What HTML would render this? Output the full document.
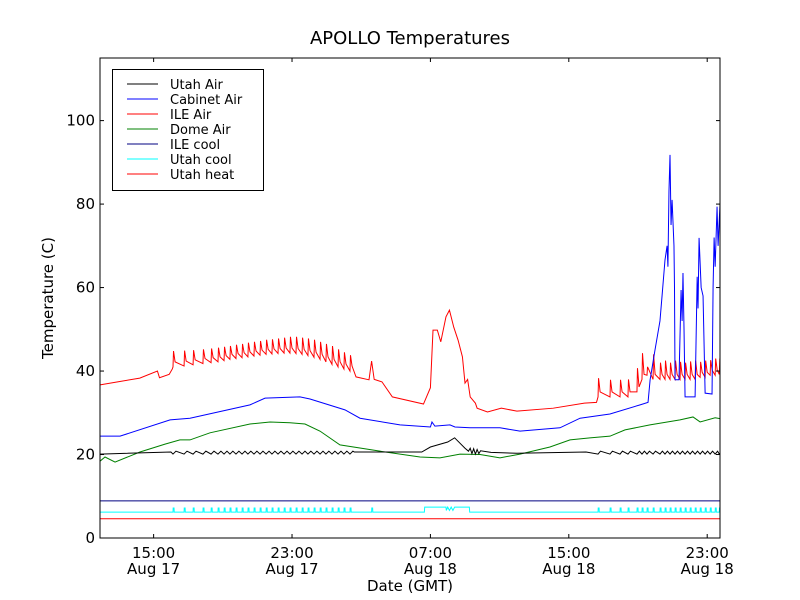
<!DOCTYPE html>
<html><head><meta charset="utf-8"><style>
body{margin:0;background:#fff;}
svg{display:block;font-family:"DejaVu Sans","Liberation Sans",sans-serif;}
</style></head><body>
<svg id="chart" width="800" height="600"></svg>
<script>
const X0=11.9, X1=47.74, Y0=0, Y1=115;
const xTickHours=[15,23,31,39,47];
const xTickLabels=[["15:00","Aug 17"],["23:00","Aug 17"],["07:00","Aug 18"],["15:00","Aug 18"],["23:00","Aug 18"]];
const yTicks=[0,20,40,60,80,100];
const seriesNames=["Utah Air","Cabinet Air","ILE Air","Dome Air","ILE cool","Utah cool","Utah heat"];
const seriesColors=["#000000","#0000ff","#ff0000","#008000","#000080","#00ffff","#ff0000"];

const toothTimes1=[16.12,16.76,17.28,17.85,18.32,18.72,19.07,19.41,19.76,20.11,20.45,20.8,21.15,21.5,21.84,22.19,22.54,22.88,23.23,23.58,23.92,24.27,24.62,24.96,25.31,25.66,26.0,26.35];
const toothPeaks1=[44.8,44.9,45.0,45.2,45.4,45.6,45.8,46.0,46.3,46.5,46.8,47.0,47.2,47.5,47.6,47.8,48.0,48.2,48.2,48.0,47.8,47.5,47.0,46.5,46.0,45.2,44.5,43.8];
const toothBases1=[41.0,41.2,41.5,41.8,42.0,42.2,42.5,42.8,43.0,43.2,43.4,43.6,43.8,44.0,44.1,44.2,44.3,44.3,44.2,44.0,43.7,43.3,42.8,42.2,41.6,41.0,40.5,40.0];
const toothTimes2=[40.69,41.38,41.96,42.42,42.94,43.23,43.52,43.87,44.27,44.56,44.85,45.14,45.43,45.72,46.01,46.3,46.59,46.88,47.17,47.46,47.7];
const toothPeaks2=[38.3,37.9,37.9,38,40.7,44.3,41,44,42,42.5,42,42.5,42.2,42,42.3,42.5,42.2,42.5,42.6,43,43];
const toothBases2=[33.8,33.8,33.8,33.8,35,38,39,38,38,38,38,38,38,38,38,38,38.5,38.5,39,39,39.2];

const ileAirPreT=[11.9,14.2,15.22,15.34,15.9,16.08];
const ileAirPreV=[36.7,38.3,40,38.4,39.2,40.5];
const ileAirMidT=[26.7,27.45,27.6,27.75,28.2,28.8,30.6,31.0,31.15,31.4,31.6,31.9,32.1,32.35,32.6,32.85,33.0,33.15,33.3,33.6,33.7,34.3,35.1,36.0,38.1,39.9,40.6];
const ileAirMidV=[38.6,37.9,42.4,38.0,37.4,33.8,32.1,36,49.8,49.8,47.0,53,54.6,50.5,47.4,43.4,37.1,38,33.8,32.3,31.1,30.2,31.1,30.4,31.1,32.3,32.5];

const cabinetT=[11.9,13.06,15.95,17.1,20.57,21.44,23.46,24.04,26.06,26.93,29.24,31.0,31.09,31.26,32.13,32.42,33.29,35.02,36.18,38.49,39.65,41.38,43.12,43.58,43.7,43.98,44.27,44.39,44.56,44.68,44.73,44.79,44.85,44.91,44.97,45.08,45.11,45.14,45.37,45.49,45.55,45.6,45.66,45.72,46.3,46.42,46.47,46.53,46.65,46.76,46.88,47.28,47.34,47.4,47.46,47.57,47.63,47.74];
const cabinetV=[24.4,24.4,28.3,28.7,31.9,33.5,33.8,33.3,30.7,28.7,27.1,26.6,27.8,26.8,27.1,26.6,26.4,26.4,25.6,26.4,28.7,29.7,31.9,32.5,37.9,45,52,58,66.6,70,65,83,91.8,75,81,70,60,37.9,37.9,59.4,52,63.5,50,33.8,33.8,62.6,55,71.9,60,58,34.7,34.5,60,72,65,79.4,70,80];

const domeT=[11.9,12.19,12.77,14.21,15.66,16.52,17.1,18.26,20.57,21.73,22.88,23.75,24.62,25.77,28.08,30.4,31.55,32.71,33.87,35.02,36.18,37.91,39.07,40.22,41.38,42.25,43.69,45.43,46.18,46.59,47.46,47.74];
const domeV=[18.4,19.4,18.2,20.6,22.5,23.5,23.5,25.2,27.3,27.8,27.6,27.3,25.6,22.3,20.8,19.4,19.2,20.1,20.0,19.2,20.1,21.8,23.5,24.0,24.4,25.9,27.1,28.3,29.0,27.8,28.8,28.6];

const utahAirMidT=[26.6,30.5,31.0,32.0,32.4,33.0,33.2,33.3,33.4,33.5,33.6,33.7,33.8,33.9,34.5,36.0,40.0];
const utahAirMidV=[20.6,20.6,21.8,23.0,24.0,21.5,20.8,21.5,20.2,21.4,20.1,21.2,20.2,20.9,20.5,20.3,20.6];
const utahAirStart=[20.1,20.6], utahAirEnd=20.5, utahAirWiggleHi=20.8, utahAirWiggleLo=20.1;

const ileCoolV=8.9, utahHeatV=4.6, utahCoolBase=6.2, utahCoolPulse=7.2, utahCoolStep=7.4;
const utahCoolStepT=[30.65,33.25];
const utahCoolExtraPulses=[27.6];

const L=100,R=720,T=58,B=538;
function xs(t){return L+(t-X0)/(X1-X0)*(R-L);}
function ys(v){return B-(v-Y0)/(Y1-Y0)*(B-T);}
const NS="http://www.w3.org/2000/svg";
const svg=document.getElementById('chart');
function mk(tag,attrs,parent){const e=document.createElementNS(NS,tag);for(const k in attrs)e.setAttribute(k,attrs[k]);(parent||svg).appendChild(e);return e;}

function ileAir(){const p=[];ileAirPreT.forEach((t,i)=>p.push([t,ileAirPreV[i]]));
 function teeth(T,P,Bs){T.forEach((t,i)=>{p.push([t,Bs[i]]);p.push([t+0.03,P[i]]);p.push([t+0.12,Bs[i]+1.2]);});}
 teeth(toothTimes1,toothPeaks1,toothBases1);
 ileAirMidT.forEach((t,i)=>p.push([t,ileAirMidV[i]]));
 teeth(toothTimes2,toothPeaks2,toothBases2);
 p.push([X1,toothBases2[toothBases2.length-1]+1]);return p;}
function utahAir(){const p=[[X0,utahAirStart[0]],[16.0,utahAirStart[1]]];
 toothTimes1.forEach(t=>{p.push([t,utahAirWiggleLo]);p.push([t+0.17,utahAirWiggleHi]);});
 utahAirMidT.forEach((t,i)=>p.push([t,utahAirMidV[i]]));
 toothTimes2.forEach(t=>{p.push([t,utahAirWiggleLo]);p.push([t+0.14,utahAirWiggleHi]);});
 p.push([X1,utahAirEnd]);return p;}
function utahCool(){const p=[[X0,utahCoolBase]];
 const pulses=toothTimes1.concat(utahCoolExtraPulses);
 function pulse(t){p.push([t,utahCoolBase]);p.push([t+0.01,utahCoolPulse]);p.push([t+0.06,utahCoolPulse]);p.push([t+0.07,utahCoolBase]);}
 pulses.forEach(pulse);
 p.push([utahCoolStepT[0],utahCoolBase]);p.push([utahCoolStepT[0]+0.02,utahCoolStep]);
 p.push([31.9,utahCoolStep]);p.push([31.92,6.6]);p.push([32.0,7.4]);p.push([32.1,6.6]);p.push([32.2,7.4]);p.push([32.3,6.6]);p.push([32.4,7.4]);
 p.push([utahCoolStepT[1],utahCoolStep]);p.push([utahCoolStepT[1]+0.02,utahCoolBase]);
 toothTimes2.forEach(pulse);p.push([X1,utahCoolBase]);return p;}
function zipTV(T,V){return T.map((t,i)=>[t,V[i]]);}
const series=[utahAir(),zipTV(cabinetT,cabinetV),ileAir(),zipTV(domeT,domeV),[[X0,ileCoolV],[X1,ileCoolV]],utahCool(),[[X0,utahHeatV],[X1,utahHeatV]]];
const drawOrder=[6,5,4,3,0,2,1];

const clip=mk('clipPath',{id:'pc'});mk('rect',{x:L,y:T,width:R-L,height:B-T},clip);
const plot=mk('g',{'clip-path':'url(#pc)'});


drawOrder.forEach(i=>{
 const d=series[i].map((pt,j)=>(j?'L':'M')+xs(pt[0]).toFixed(2)+','+ys(pt[1]).toFixed(2)).join('');
 const path=mk('path',{d:d,fill:'none',stroke:seriesColors[i],'stroke-width':1},plot);
 
 
});

const frame=mk('rect',{x:L,y:T,width:R-L,height:B-T,fill:'none',stroke:'#000','stroke-width':1});



xTickHours.forEach((h,i)=>{const x=xs(h);
 mk('line',{x1:x,y1:B,x2:x,y2:B-4,stroke:'#000'});mk('line',{x1:x,y1:T,x2:x,y2:T+4,stroke:'#000'});
 const t=mk('text',{x:x,y:B+20,'font-size':15,'text-anchor':'middle'});t.textContent=xTickLabels[i][0];
 
 
 const t2=mk('text',{x:x,y:B+36,'font-size':15,'text-anchor':'middle'});t2.textContent=xTickLabels[i][1];
 
 
});
yTicks.forEach(v=>{const y=ys(v);
 mk('line',{x1:L,y1:y,x2:L+4,y2:y,stroke:'#000'});mk('line',{x1:R,y1:y,x2:R-4,y2:y,stroke:'#000'});
 const t=mk('text',{x:L-5,y:y+5,'font-size':15,'text-anchor':'end'});t.textContent=v;
 
 
});
const title=mk('text',{x:410,y:44,'font-size':18,'text-anchor':'middle'});title.textContent='APOLLO Temperatures';


const xl=mk('text',{x:410,y:591,'font-size':15,'text-anchor':'middle'});xl.textContent='Date (GMT)';


const yl=mk('text',{x:53,y:298,'font-size':15,'text-anchor':'middle',transform:'rotate(-90 53 298)'});yl.textContent='Temperature (C)';



const lg=mk('g',{});


mk('rect',{x:112.5,y:69.5,width:151,height:121,fill:'#fff',stroke:'#000'},lg);
seriesNames.forEach((n,i)=>{const y=84+i*15;
 const e=mk('g',{},lg);
 
 
 mk('line',{x1:127,y1:y,x2:158,y2:y,stroke:seriesColors[i],'stroke-width':1},e);
 const t=mk('text',{x:170,y:y+5,'font-size':13},e);t.textContent=n;
});
</script>
</body></html>
